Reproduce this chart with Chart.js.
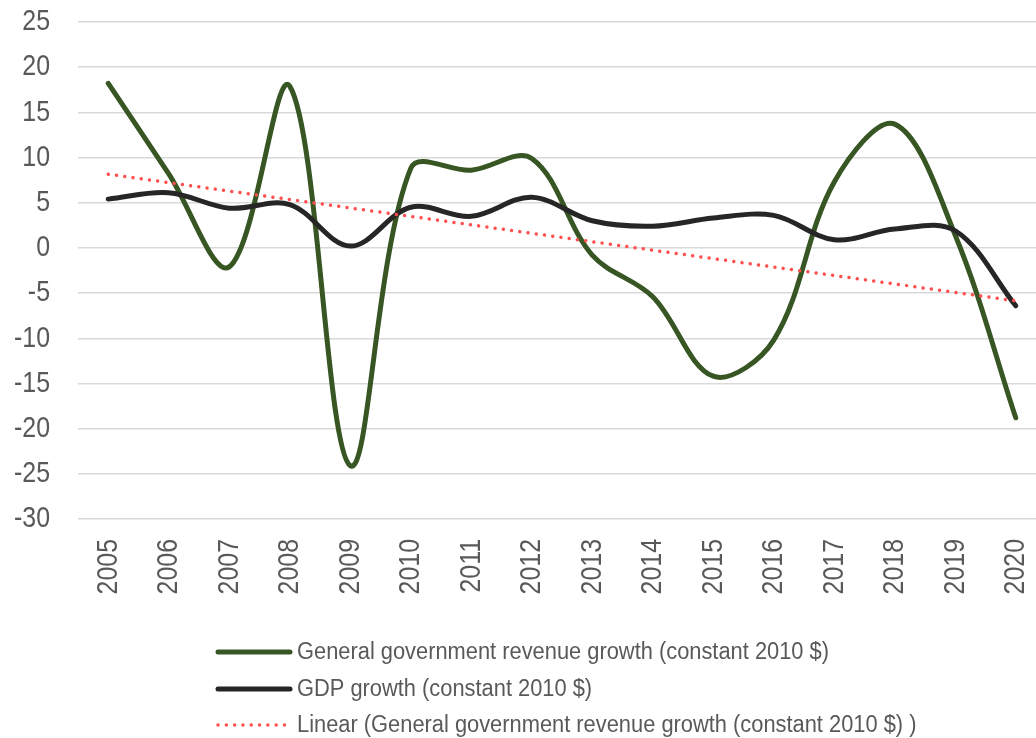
<!DOCTYPE html>
<html>
<head>
<meta charset="utf-8">
<script src="https://cdn.jsdelivr.net/npm/chart.js@4.4.1/dist/chart.umd.min.js"></script>
<style>
  html, body { margin: 0; padding: 0; background: #ffffff; overflow: hidden; }
  #wrap { position: relative; width: 1046px; height: 738px; }
</style>
</head>
<body>
<div id="wrap"><canvas id="chart"></canvas></div>
<script>
// Years on the category axis
const categories = ['2005','2006','2007','2008','2009','2010','2011','2012',
                    '2013','2014','2015','2016','2017','2018','2019','2020'];

// General government revenue growth (constant 2010 $), %
const revenueGrowth = [18.2, 8.2, -2.1, 17.9, -24.1, 8.8, 8.6, 9.9,
                       -0.8, -5.4, -14.2, -10.2, 7.3, 13.7, 1.4, -18.8];

// GDP growth (constant 2010 $), %
const gdpGrowth = [5.4, 6.1, 4.4, 4.8, 0.2, 4.5, 3.5, 5.6,
                   3.0, 2.4, 3.3, 3.6, 0.9, 2.1, 1.9, -6.4];

// Value axis ticks
const yTicks = [-30, -25, -20, -15, -10, -5, 0, 5, 10, 15, 20, 25];

const seriesLabels = [
  'General government revenue growth (constant 2010 $)',
  'GDP growth (constant 2010 $)',
  'Linear (General government revenue growth (constant 2010 $) )'
];

// Least-squares linear trend of revenue growth over the year index
function linearTrend(values) {
  const n = values.length;
  const xm = (n - 1) / 2;
  const ym = values.reduce((a, b) => a + b, 0) / n;
  let sxy = 0, sxx = 0;
  values.forEach((v, i) => { sxy += (i - xm) * (v - ym); sxx += (i - xm) * (i - xm); });
  const slope = sxy / sxx;
  return values.map((_, i) => ym + slope * (i - xm));
}
const revenueTrend = linearTrend(revenueGrowth);

const FONT = "'Liberation Sans', Arial, sans-serif";
const TEXT = '#595959';
const GREEN = '#375623';
const BLACK = '#262626';
const RED = '#ff4f4f';

// Narrow-set text: regular face squeezed horizontally along the writing direction
function narrowText(ctx, text, x, y, opts) {
  ctx.save();
  ctx.translate(x, y);
  if (opts.rotate) ctx.rotate(opts.rotate);
  ctx.scale(opts.squeeze, 1);
  ctx.font = opts.size + 'px ' + FONT;
  ctx.fillStyle = TEXT;
  ctx.textAlign = opts.align;
  ctx.textBaseline = 'middle';
  ctx.fillText(text, 0, 0);
  ctx.restore();
}

// Axis tick labels in a condensed setting
const axisLabels = {
  id: 'axisLabels',
  afterDraw(chart) {
    const ctx = chart.ctx;
    const xs = chart.scales.x, ys = chart.scales.y;
    ys.ticks.forEach(t => {
      narrowText(ctx, String(t.value), chart.chartArea.left - 28, ys.getPixelForValue(t.value),
                 { size: 30, squeeze: 0.83, align: 'right' });
    });
    xs.ticks.forEach((t, i) => {
      narrowText(ctx, categories[i], xs.getPixelForTick(i), chart.chartArea.bottom + 20,
                 { size: 30, squeeze: 0.83, align: 'right', rotate: -Math.PI / 2 });
    });
  }
};

// Legend stacked one entry per row, left aligned, under the plot
const stackedLegend = {
  id: 'stackedLegend',
  afterDraw(chart) {
    const ctx = chart.ctx;
    const rows = [652, 689, 725];
    const x0 = 218, x1 = 290, tx = 297;
    chart.data.datasets.forEach((ds, i) => {
      const y = rows[i];
      ctx.save();
      ctx.strokeStyle = ds.borderColor;
      ctx.lineWidth = ds.borderWidth;
      ctx.lineCap = 'round';
      if (ds.borderDash && ds.borderDash.length) ctx.setLineDash(ds.borderDash);
      ctx.beginPath();
      ctx.moveTo(x0, y);
      ctx.lineTo(x1, y);
      ctx.stroke();
      ctx.restore();
      narrowText(ctx, ds.label, tx, y + 1, { size: 23, squeeze: 0.95, align: 'left' });
    });
  }
};

new Chart(document.getElementById('chart'), {
  type: 'line',
  data: {
    labels: categories,
    datasets: [
      {
        label: seriesLabels[0],
        data: revenueGrowth,
        borderColor: GREEN,
        borderWidth: 5,
        pointRadius: 0,
        tension: 0.35,
        borderCapStyle: 'round',
        order: 3
      },
      {
        label: seriesLabels[1],
        data: gdpGrowth,
        borderColor: BLACK,
        borderWidth: 5,
        pointRadius: 0,
        tension: 0.35,
        borderCapStyle: 'round',
        order: 2
      },
      {
        label: seriesLabels[2],
        data: revenueTrend,
        borderColor: RED,
        borderWidth: 3.5,
        borderDash: [0.01, 8.3],
        borderCapStyle: 'round',
        pointRadius: 0,
        tension: 0,
        order: 1
      }
    ]
  },
  options: {
    responsive: true,
    maintainAspectRatio: false,
    devicePixelRatio: 1,
    animation: false,
    layout: { padding: { top: 22, left: 0, right: 0, bottom: 133 } },
    plugins: {
      legend: { display: false },
      tooltip: { enabled: false }
    },
    scales: {
      x: {
        type: 'category',
        offset: true,
        border: { display: false },
        grid: { display: false, drawTicks: false },
        ticks: { display: true, color: 'rgba(0,0,0,0)', font: { family: FONT, size: 12 },
                 maxRotation: 0, autoSkip: false },
        afterFit(scale) {
          scale.height = 86;
          scale.paddingLeft = 0; scale.paddingRight = 0;
        }
      },
      y: {
        min: -30,
        max: 25,
        border: { display: false },
        grid: { color: '#d9d9d9', lineWidth: 1.5, drawTicks: false },
        afterBuildTicks(scale) { scale.ticks = yTicks.map(v => ({ value: v })); },
        ticks: { color: 'rgba(0,0,0,0)', font: { family: FONT, size: 12 } },
        afterFit(scale) {
          scale.width = 78;
          scale.paddingTop = 0; scale.paddingBottom = 0;
        }
      }
    }
  },
  plugins: [axisLabels, stackedLegend]
});
</script>
</body>
</html>
